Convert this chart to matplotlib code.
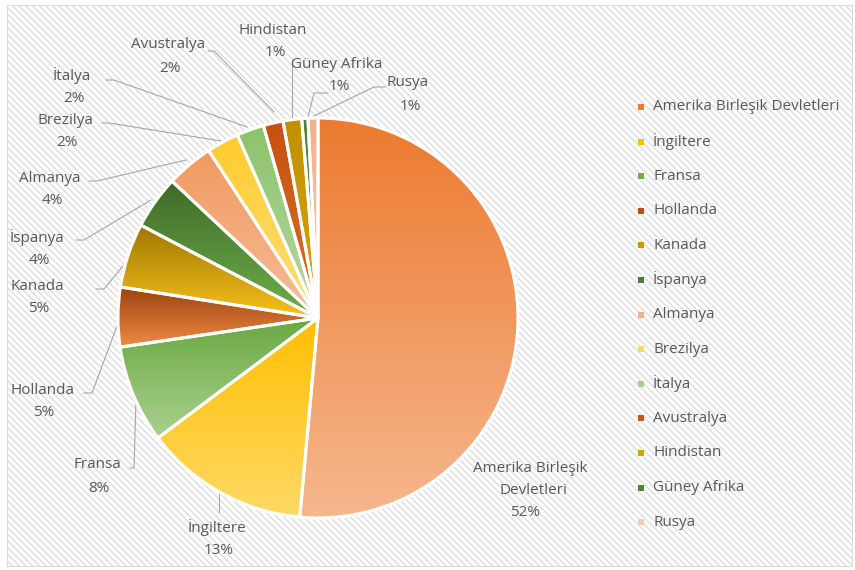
import numpy as np
import matplotlib.pyplot as plt
from matplotlib.patches import Rectangle
from matplotlib.colors import to_rgb

plt.rcParams['font.family'] = ['Open Sans', 'DejaVu Sans']
plt.rcParams['hatch.color'] = '#d4d4d4'
plt.rcParams['hatch.linewidth'] = 1.0

# data
ulkeler = ['Amerika Birleşik Devletleri', 'İngiltere', 'Fransa', 'Hollanda', 'Kanada',
           'İspanya', 'Almanya', 'Brezilya', 'İtalya', 'Avustralya', 'Hindistan',
           'Güney Afrika', 'Rusya']
degerler = [51.4, 13.3, 7.9, 4.8, 5.2, 4.3, 3.8, 2.6, 2.2, 1.6, 1.5, 0.5, 0.8]
yuzde = ['52%', '13%', '8%', '5%', '5%', '4%', '4%', '2%', '2%', '2%', '1%', '1%', '1%']

# gradient colours (top, bottom) of each slice
renk_ust = ['#ec7a30', '#ffbf00', '#6aa842', '#9a430c', '#a07800', '#3f6a28',
            '#f19a60', '#ffcb2e', '#8cc26a', '#c4520e', '#c09000', '#4f8035', '#f5b08c']
renk_alt = ['#f6b78d', '#ffd966', '#a9d18e', '#ef8a45', '#f7c21e', '#6fb04a',
            '#f6bd97', '#ffdf7a', '#b8d9a2', '#e07030', '#d8a810', '#5f9a40', '#f9c9ad']
renk_lejant = ['#ec7d31', '#ffc000', '#70ad47', '#b5501a', '#c99a06', '#4e7f35',
               '#f4b183', '#ffd966', '#a9d18e', '#c55a11', '#d8a300', '#548235', '#f8cbad']

W, H = 855, 570
fig = plt.figure(figsize=(W / 100, H / 100), dpi=100)
ax = fig.add_axes([0, 0, 1, 1])

# striped panel
ax.add_patch(Rectangle((7, H - 566), 845, 561, facecolor='white', edgecolor='#dcdcdc',
                       hatch='\\\\\\\\\\', linewidth=0.8, zorder=0))

cx, cy, r = 318, H - 318, 200
wedges, _ = ax.pie(degerler, center=(cx, cy), radius=r, startangle=90, counterclock=False,
                   colors=renk_lejant, wedgeprops=dict(edgecolor='white', linewidth=2.2))

# gradient fill inside each wedge
for w, c1, c2 in zip(wedges, renk_ust, renk_alt):
    w.set_zorder(3)
    w.set_facecolor('none')
    bb = w.get_path().get_extents()
    t = np.linspace(0, 1, 64)[:, None]
    grad = (1 - t) * np.array(to_rgb(c1)) + t * np.array(to_rgb(c2))
    img = ax.imshow(grad[:, None, :].repeat(2, axis=1),
                    extent=(bb.x0, bb.x1, bb.y0, bb.y1), origin='upper',
                    aspect='auto', zorder=2, interpolation='bilinear')
    img.set_clip_path(w)

# label layout: (name x, name y) in pixels, leader line points in pixels
etiket_yer = [(530, 468), (217, 527), (97, 465), (42, 390), (37, 286), (37, 237),
              (50, 178), (65, 120), (72, 75), (168, 45), (273, 30), (337, 64), (408, 83)]
cizgiler = [None,
            [(219, 512), (219, 493)],
            [(130, 468), (134, 468), (136, 400)],
            [(84, 393), (92, 393), (120, 318)],
            [(96, 289), (104, 289), (123, 266)],
            [(76, 240), (84, 240), (151, 200)],
            [(89, 181), (97, 181), (186, 160)],
            [(102, 123), (109, 123), (221, 141)],
            [(106, 80), (114, 80), (247, 127)],
            [(208, 51), (214, 51), (274, 112)],
            [(292, 60), (292, 117)],
            [(328, 93), (314, 93), (308, 117)],
            [(385, 87), (374, 87), (314, 116)]]

gri = '#595959'
fs = 11
for i, (ad, yz) in enumerate(zip(ulkeler, yuzde)):
    x, y = etiket_yer[i]
    if i == 0:
        ax.text(x, H - y, 'Amerika Birleşik', ha='center', va='center', fontsize=fs, color=gri)
        ax.text(x + 3, H - y - 23, 'Devletleri', ha='center', va='center', fontsize=fs, color=gri)
        ax.text(x - 5, H - y - 45, yz, ha='center', va='center', fontsize=fs, color=gri)
    else:
        ax.text(x, H - y, ad, ha='center', va='center', fontsize=fs, color=gri)
        ax.text(x + 2, H - y - 23, yz, ha='center', va='center', fontsize=fs, color=gri)
    if cizgiler[i]:
        px = [p[0] for p in cizgiler[i]]
        py = [H - p[1] for p in cizgiler[i]]
        ax.plot(px, py, color='#a6a6a6', lw=0.8, zorder=1)

# legend
for i, (ad, c) in enumerate(zip(ulkeler, renk_lejant)):
    y = H - (107 + i * 34.6)
    ax.add_patch(Rectangle((638, y - 3), 6, 6, facecolor=c, edgecolor='none', zorder=3))
    ax.text(653, y, ad, ha='left', va='center', fontsize=fs, color=gri)

ax.set_xlim(0, W)
ax.set_ylim(0, H)
ax.set_aspect('equal')
ax.axis('off')

fig.savefig('out.png', dpi=100)
